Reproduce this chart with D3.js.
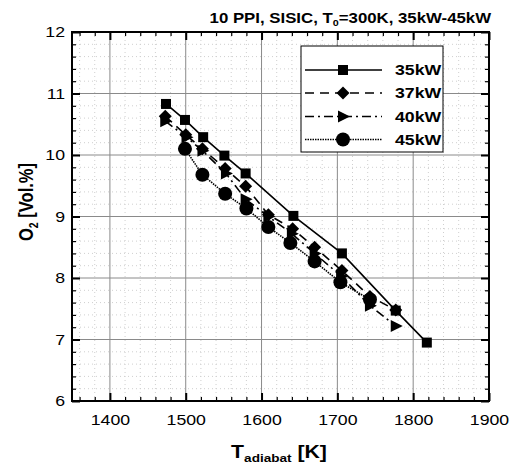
<!DOCTYPE html>
<html><head><meta charset="utf-8">
<script src="https://cdn.jsdelivr.net/npm/d3@7"></script>
<style>body{margin:0;background:#fff}svg{display:block;font-family:"Liberation Sans",Arial,sans-serif}</style>
</head><body><svg id="c" width="510" height="467"></svg>
<script>
const xTicks = [1400,1500,1600,1700,1800,1900];
const yTicks = [6,7,8,9,10,11,12];
const seriesNames = ["35kW","37kW","40kW","45kW"];
const s35 = [[1474,10.83],[1499,10.57],[1523,10.29],[1551,9.99],[1579,9.70],[1642,9.01],[1706,8.40],[1777,7.47],[1818,6.95]];
const s37 = [[1473,10.63],[1500,10.33],[1522,10.10],[1552,9.78],[1579,9.49],[1609,9.03],[1641,8.80],[1670,8.50],[1706,8.12],[1743,7.70],[1777,7.48]];
const s40 = [[1473,10.55],[1501,10.29],[1522,10.07],[1553,9.70],[1579,9.28],[1609,9.00],[1640,8.72],[1670,8.40],[1705,8.03],[1743,7.55],[1777,7.22]];
const s45 = [[1499,10.10],[1522,9.68],[1552,9.37],[1580,9.13],[1609,8.83],[1638,8.57],[1670,8.27],[1704,7.93],[1743,7.65]];

const SX = 1.18; // horizontal glyph stretch
const svg = d3.select("#c");
const L=72,R=489,T=32,B=401;
const x = d3.scaleLinear().domain([1350,1900]).range([L,R]);
const y = d3.scaleLinear().domain([6,12]).range([B,T]);

const xMinor = d3.range(1360,1900,20).filter(v=>v%100!==0);
const yMinor = d3.range(6.2,12,0.2).filter(v=>Math.abs(v-Math.round(v))>1e-6);
const g = svg.append("g");
g.selectAll(".xm").data(xMinor).enter().append("line")
 .attr("x1",d=>x(d)).attr("x2",d=>x(d)).attr("y1",T).attr("y2",B)
 .attr("stroke","#cfcfcf").attr("stroke-width",1).attr("stroke-dasharray","1,3");
g.selectAll(".ym").data(yMinor).enter().append("line")
 .attr("y1",d=>y(d)).attr("y2",d=>y(d)).attr("x1",L).attr("x2",R)
 .attr("stroke","#cfcfcf").attr("stroke-width",1).attr("stroke-dasharray","1,3");
g.selectAll(".xM").data(xTicks).enter().append("line")
 .attr("x1",d=>x(d)).attr("x2",d=>x(d)).attr("y1",T).attr("y2",B)
 .attr("stroke","#8a8a8a").attr("stroke-width",1);
g.selectAll(".yM").data(yTicks).enter().append("line")
 .attr("y1",d=>y(d)).attr("y2",d=>y(d)).attr("x1",L).attr("x2",R)
 .attr("stroke","#8a8a8a").attr("stroke-width",1);

function styleAxis(sel, w){ sel.select(".domain").remove(); sel.selectAll("line").attr("stroke","#000").attr("stroke-width",w||2); sel.selectAll("text").attr("font-size",15).attr("fill","#000"); }
const bx = svg.append("g").attr("transform",`translate(0,${B})`).call(d3.axisBottom(x).tickValues(xTicks).tickSize(-8).tickPadding(13).tickFormat(d3.format("d"))).call(styleAxis);
bx.selectAll("text").attr("transform",`scale(${SX},1)`);
svg.append("g").attr("transform",`translate(0,${T})`).call(d3.axisTop(x).tickValues(xTicks).tickSize(-8).tickFormat("")).call(styleAxis);
const ly = svg.append("g").attr("transform",`translate(${L},0)`).call(d3.axisLeft(y).tickValues(yTicks).tickSize(-8).tickFormat(d3.format("d"))).call(styleAxis);
ly.selectAll("text").attr("x",-7/SX).attr("transform",`scale(${SX},1)`);
svg.append("g").attr("transform",`translate(${R},0)`).call(d3.axisRight(y).tickValues(yTicks).tickSize(-8).tickFormat("")).call(styleAxis);
svg.append("g").attr("transform",`translate(0,${B})`).call(d3.axisBottom(x).tickValues(xMinor).tickSize(-4).tickFormat("")).call(styleAxis,1.2);
svg.append("g").attr("transform",`translate(0,${T})`).call(d3.axisTop(x).tickValues(xMinor).tickSize(-4).tickFormat("")).call(styleAxis,1.2);
svg.append("g").attr("transform",`translate(${L},0)`).call(d3.axisLeft(y).tickValues(yMinor).tickSize(-4).tickFormat("")).call(styleAxis,1.2);
svg.append("g").attr("transform",`translate(${R},0)`).call(d3.axisRight(y).tickValues(yMinor).tickSize(-4).tickFormat("")).call(styleAxis,1.2);

svg.append("rect").attr("x",L).attr("y",T).attr("width",R-L).attr("height",B-T)
 .attr("fill","none").attr("stroke","#000").attr("stroke-width",2);

const styles = [
 {data:s35, dash:null, sym:"sq"},
 {data:s37, dash:"9,6", sym:"dia"},
 {data:s40, dash:"9,4,2,4", sym:"tri"},
 {data:s45, dash:"1.5,1", sym:"cir"}
];
const paths = {sq:"M-5,-5H5V5H-5Z", dia:"M0,-6.5L6.5,0L0,6.5L-6.5,0Z", tri:"M-5,-6L7,0L-5,6Z"};
function marker(sel, st){
  if(st.sym==="cir") sel.append("circle").attr("r",7).attr("fill","#000");
  else sel.append("path").attr("d",paths[st.sym]).attr("fill","#000");
}
const line = d3.line().x(d=>x(d[0])).y(d=>y(d[1]));
styles.forEach(st=>{
  svg.append("path").datum(st.data).attr("d",line).attr("fill","none").attr("stroke","#000")
   .attr("stroke-width",1.6).attr("stroke-dasharray",st.dash);
  st.data.forEach(p=>{
    const m = svg.append("g").attr("transform",`translate(${x(p[0])},${y(p[1])})`);
    marker(m, st);
  });
});

// legend
const lg = svg.append("g");
lg.append("rect").attr("x",301).attr("y",46).attr("width",142).attr("height",106)
 .attr("fill","#fff").attr("stroke","#000").attr("stroke-width",1);
const rows=[70,93,116.5,139.5];
styles.forEach((st,i)=>{
  lg.append("line").attr("x1",305).attr("x2",382).attr("y1",rows[i]).attr("y2",rows[i])
   .attr("stroke","#000").attr("stroke-width",1.6).attr("stroke-dasharray",st.dash);
  const m = lg.append("g").attr("transform",`translate(343,${rows[i]})`);
  marker(m, st);
  lg.append("g").attr("transform",`translate(395,${rows[i]+5})`).append("text")
   .attr("transform",`scale(${SX},1)`).attr("font-size",15).attr("font-weight","bold").text(seriesNames[i]);
});

// title
const t = svg.append("g").attr("transform",`translate(491,22.5) scale(1.2,1)`).append("text")
 .attr("text-anchor","end").attr("font-size",14).attr("font-weight","bold");
t.append("tspan").text("10 PPI, SISIC, T");
t.append("tspan").attr("font-size",9).attr("dy",3).text("0");
t.append("tspan").attr("dy",-3).text("=300K, 35kW-45kW");

// x title
const xt = svg.append("g").attr("transform",`translate(279,457.5) scale(${SX},1)`).append("text")
 .attr("text-anchor","middle").attr("font-size",18).attr("font-weight","bold");
xt.append("tspan").text("T");
xt.append("tspan").attr("font-size",11.5).attr("dy",4).text("adiabat");
xt.append("tspan").attr("dy",-4).text(" [K]");
// y title
const yt = svg.append("g").attr("transform",`translate(33,202) scale(1.2,1) rotate(-90)`).append("text")
 .attr("text-anchor","middle").attr("font-size",16.5).attr("font-weight","bold");
yt.append("tspan").text("O");
yt.append("tspan").attr("font-size",10.5).attr("dy",4).text("2");
yt.append("tspan").attr("dy",-4).text(" [Vol.%]");
</script></body></html>
